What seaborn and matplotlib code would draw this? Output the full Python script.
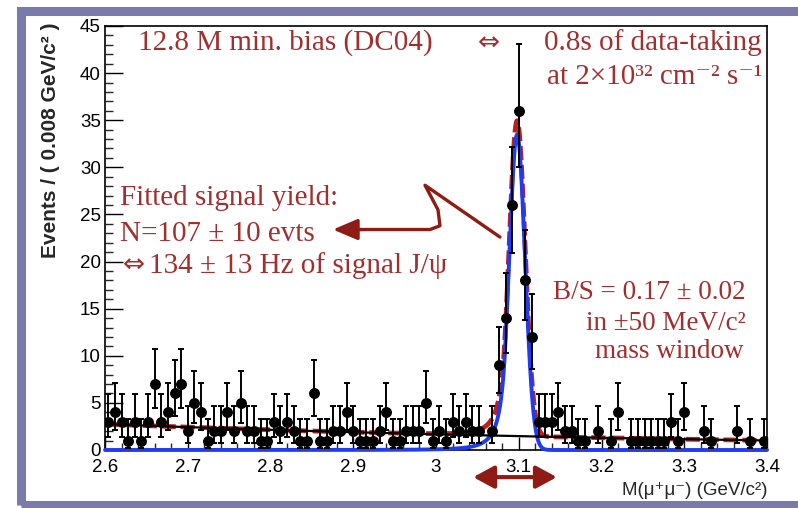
import numpy as np
import pandas as pd
import matplotlib
matplotlib.use("Agg")
import matplotlib.pyplot as plt
import seaborn as sns
from matplotlib.patches import Rectangle
from matplotlib.ticker import MultipleLocator, FuncFormatter

# ---- dimuon invariant mass histogram: 100 bins of 8 MeV/c^2 ----
mass_lo, mass_hi, n_bins = 2.6, 3.4, 100
counts = [
    3, 4, 3, 1, 3, 1, 3, 7, 3, 4, 6, 7, 2, 5, 4, 1, 2, 2, 4, 2, 5, 2, 2, 1, 1,
    3, 2, 3, 2, 1, 1, 6, 1, 1, 2, 2, 4, 2, 1, 1, 1, 2, 4, 1, 1, 2, 2, 2, 5, 1,
    2, 1, 3, 2, 3, 2, 2, 0, 2, 9, 14, 26, 36, 18, 12, 3, 3, 3, 4, 2, 2, 1, 1, 0, 2,
    0, 1, 4, 0, 1, 1, 1, 1, 1, 1, 3, 1, 4, 0, 0, 2, 1, 0, 0, 0, 2, 0, 1, 0, 1,
]

# ---- fit result: Crystal-Ball signal + exponential background ----
sig_yield = 107.0
sig_mean = 3.098
sig_sigma = 0.0096
cb_alpha = 1.5
cb_n = 3.0
bkg_at_lo = 2.75      # background events per bin at 2.6 GeV/c^2
bkg_slope = -1.25     # exponential slope (1/GeV)

xlabel = "M(μ⁺μ⁻) (GeV/c²)"
ylabel = "Events / ( 0.008 GeV/c² )"

# ---- style ----
sns.set_theme(style="white")
plt.rcParams["font.family"] = ["Liberation Sans", "DejaVu Sans"]
plt.rcParams["axes.unicode_minus"] = False

RED_TXT = "#a0302f"
RED_ARR = "#8e1c14"
FRAME = "#7b7bab"
SERIF = ["Liberation Serif", "DejaVu Serif"]

W, H = 798, 508
fig = plt.figure(figsize=(W / 100, H / 100), dpi=100)
fig.patch.set_facecolor("white")


def fx(px):
    return px / W


def fy(py):
    return 1 - py / H


ax = fig.add_axes([fx(105), fy(450), (767 - 105) / W, (450 - 26) / H])
ax.set_facecolor("white")

bin_w = (mass_hi - mass_lo) / n_bins
centers = mass_lo + bin_w * (np.arange(n_bins) + 0.5)
n = np.asarray(counts, dtype=float)

# Poisson 68% intervals (Wilson-Hilferty approximation)
with np.errstate(divide="ignore", invalid="ignore"):
    up = (n + 1) * (1 - 1 / (9 * (n + 1)) + 1 / (3 * np.sqrt(n + 1))) ** 3
    lo = np.where(n > 0, n * (1 - 1 / (9 * n) - 1 / (3 * np.sqrt(n))) ** 3, 0.0)
err_lo = n - lo
err_hi = up - n

# ---- fit model curves (events per bin) ----
xs = np.linspace(mass_lo, mass_hi, 2000)


def crystal_ball(x):
    t = (x - sig_mean) / sig_sigma
    A = (cb_n / cb_alpha) ** cb_n * np.exp(-cb_alpha ** 2 / 2)
    B = cb_n / cb_alpha - cb_alpha
    core = np.exp(-0.5 * t ** 2)
    tail = A * np.abs(B - t) ** (-cb_n)
    return np.where(t > -cb_alpha, core, tail)


fine = np.linspace(mass_lo - 0.5, mass_hi + 0.5, 40001)
norm = np.trapezoid(crystal_ball(fine), fine)
signal = sig_yield * bin_w * crystal_ball(xs) / norm
background = bkg_at_lo * np.exp(bkg_slope * (xs - mass_lo))
total = signal + background

curves = pd.DataFrame({"mass": xs, "total": total, "signal": signal,
                       "background": background})

sns.lineplot(data=curves, x="mass", y="total", ax=ax, color="#c0201a",
             linewidth=3.4, linestyle=(0, (3.0, 1.0)), zorder=2)
sns.lineplot(data=curves, x="mass", y="signal", ax=ax, color="#1f3cf0",
             linewidth=2.8, zorder=3, clip_on=False)
sns.lineplot(data=curves, x="mass", y="background", ax=ax, color="black",
             linewidth=1.6, zorder=4)

# ---- data points (empty bins are not drawn) ----
mask = n > 0
ax.errorbar(centers[mask], n[mask], yerr=[err_lo[mask], err_hi[mask]],
            fmt="none", ecolor="black", elinewidth=1.4, capsize=2.4,
            capthick=1.4, zorder=5)
pts = pd.DataFrame({"mass": centers[mask], "events": n[mask]})
sns.scatterplot(data=pts, x="mass", y="events", ax=ax, color="black",
                s=62, linewidth=0, zorder=6)

# ---- axes ----
ax.set_xlim(mass_lo, mass_hi)
ax.set_ylim(0, 45)
ax.set_xlabel("")
ax.set_ylabel("")
ax.xaxis.set_major_locator(MultipleLocator(0.1))
ax.xaxis.set_minor_locator(MultipleLocator(0.02))
ax.yaxis.set_major_locator(MultipleLocator(5))
ax.yaxis.set_minor_locator(MultipleLocator(1))
ax.xaxis.set_major_formatter(FuncFormatter(lambda v, p: f"{v:g}"))
ax.yaxis.set_major_formatter(FuncFormatter(lambda v, p: f"{v:g}"))
ax.tick_params(axis="x", which="major", direction="in", length=9.4,
               width=1.0, pad=6.5, labelsize=13.5, colors="black",
               bottom=True, top=False)
ax.tick_params(axis="x", which="minor", direction="in", length=5.0,
               width=1.0, bottom=True, top=False)
ax.tick_params(axis="y", which="major", direction="in", length=13,
               width=1.0, pad=3.0, labelsize=13.5, colors="black",
               left=True, right=False)
ax.tick_params(axis="y", which="minor", direction="in", length=5.8,
               width=1.0, left=True, right=False)
for s in ax.spines.values():
    s.set_visible(True)
    s.set_color("black")
    s.set_linewidth(1.2)

fig.text(fx(767), fy(495), xlabel, ha="right", va="baseline", fontsize=13.5)
fig.text(fx(51), fy(22), ylabel, ha="center", va="top", rotation=90,
         fontsize=15, fontweight="bold")

# ---- annotations ----
txt = dict(color=RED_TXT, family=SERIF, fontsize=21, va="baseline")
rtxt = {**txt, "fontsize": 19.5}
arrow_glyph = dict(color=RED_TXT, family=["DejaVu Sans"], fontsize=19,
                   va="center", ha="center")
fig.text(fx(138), fy(50), "12.8 M min. bias (DC04)", ha="left", **txt)
fig.text(fx(489), fy(43), "⇔", **arrow_glyph)
fig.text(fx(762), fy(50), "0.8s of data-taking", ha="right", **txt)
fig.text(fx(762), fy(84), "at 2×10³² cm⁻² s⁻¹", ha="right", **txt)
fig.text(fx(120), fy(205), "Fitted signal yield:", ha="left", **txt)
fig.text(fx(120), fy(241), "N=107 ± 10 evts", ha="left", **txt)
fig.text(fx(134), fy(265), "⇔", **arrow_glyph)
fig.text(fx(149), fy(273), "134 ± 13 Hz of signal J/ψ", ha="left", **txt)
fig.text(fx(746), fy(299), "B/S = 0.17 ± 0.02", ha="right", **rtxt)
fig.text(fx(746), fy(330), "in ±50 MeV/c²", ha="right", **rtxt)
fig.text(fx(744), fy(358), "mass window", ha="right", **rtxt)

# zig-zag pointer from the peak to the fitted yield
path_x = [3.0773, 2.9867, 3.0024, 3.0048, 2.9927, 2.905]
path_y = [22.6, 28.1, 25.5, 23.8, 23.4, 23.4]
ax.plot(path_x, path_y, color=RED_ARR, linewidth=2.4, solid_joinstyle="round",
        solid_capstyle="round", zorder=7)
ax.annotate("", xy=(2.8755, 23.4), xytext=(2.91, 23.4),
            arrowprops=dict(arrowstyle="-|>,head_length=0.75,head_width=0.32",
                            mutation_scale=20, color=RED_ARR, linewidth=2.4,
                            shrinkA=0, shrinkB=0), zorder=7)

# +-50 MeV window marker under the axis
ax.annotate("", xy=(3.045, -0.064), xytext=(3.146, -0.064),
            xycoords=ax.get_xaxis_transform(),
            textcoords=ax.get_xaxis_transform(),
            arrowprops=dict(arrowstyle="<|-|>,head_length=0.7,head_width=0.38",
                            mutation_scale=18, color=RED_ARR, linewidth=3.0,
                            shrinkA=0, shrinkB=0),
            annotation_clip=False)

# slide frame
fig.patches.append(Rectangle((fx(20.5), fy(504.5)), fx(820) - fx(20.5),
                             fy(10.5) - fy(504.5), transform=fig.transFigure,
                             fill=False, edgecolor=FRAME, linewidth=6.5,
                             zorder=0))

fig.savefig("out.png", dpi=100, facecolor="white")
